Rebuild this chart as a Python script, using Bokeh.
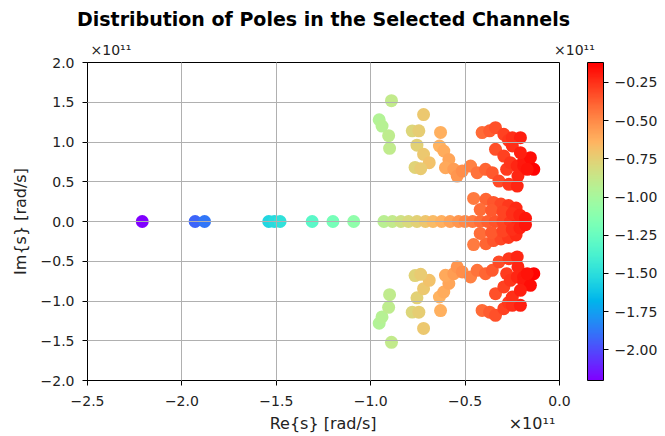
import math
from bokeh.plotting import figure
from bokeh.models import (ColumnDataSource, ColorBar, LinearColorMapper, FixedTicker,
                          CustomJSTickFormatter, Range1d, Title)
from bokeh.embed import file_html
from bokeh.resources import INLINE

# ---- data (units of 1e11 rad/s) ----
real_poles = [-2.21, -1.93, -1.88, -1.54, -1.51, -1.48, -1.31, -1.20, -1.09,
              -0.93, -0.885, -0.84, -0.80, -0.755, -0.71, -0.67, -0.625, -0.58,
              -0.535, -0.50, -0.46, -0.42, -0.38, -0.34, -0.30, -0.26, -0.22, -0.19]

cplx_re = [-0.89, -0.955, -0.94, -0.905, -0.90,
           -0.72, -0.78, -0.745, -0.755, -0.72, -0.69, -0.765, -0.735,
           -0.63, -0.636, -0.613, -0.586, -0.604, -0.56, -0.542, -0.515,
           -0.471, -0.436, -0.392, -0.356, -0.321, -0.268, -0.224, -0.28, -0.22,
           -0.41, -0.37, -0.339, -0.295, -0.27, -0.25, -0.207, -0.25, -0.339, -0.295,
           -0.26, -0.224, -0.19, -0.189, -0.154, -0.136, -0.171, -0.207,
           -0.455, -0.39, -0.35, -0.31, -0.27, -0.23, -0.42, -0.36, -0.30, -0.25, -0.21, -0.18]
cplx_im = [1.52, 1.28, 1.20, 1.08, 0.92,
           1.345, 1.14, 1.14, 0.96, 0.845, 0.74, 0.68, 0.665,
           1.12, 0.95, 0.887, 0.78, 0.677, 0.656, 0.571, 0.634,
           0.697, 0.614, 0.656, 0.614, 0.508, 0.467, 0.445, 0.656, 0.571,
           1.118, 1.14, 1.18, 1.097, 1.02, 1.055, 1.055, 0.95, 0.908, 0.823,
           0.74, 0.697, 0.70, 0.76, 0.803, 0.656, 0.656, 0.866,
           0.29, 0.28, 0.24, 0.22, 0.20, 0.17, 0.15, 0.14, 0.12, 0.10, 0.08, 0.04]

x_ticks = [-2.5, -2.0, -1.5, -1.0, -0.5, 0.0]
y_ticks = [-2.0, -1.5, -1.0, -0.5, 0.0, 0.5, 1.0, 1.5, 2.0]
cbar_ticks = [-2.0, -1.75, -1.5, -1.25, -1.0, -0.75, -0.5, -0.25]
cbar_low, cbar_high = -2.2, -0.12

title_text = "Distribution of Poles in the Selected Channels"
x_label = "Re{s} [rad/s]"
y_label = "Im{s} [rad/s]"
offset_text = "\u00d710\u00b9\u00b9"

# ---- all poles (conjugate pairs mirrored) ----
xs = list(real_poles) + list(cplx_re) + list(cplx_re)
ys = [0.0] * len(real_poles) + list(cplx_im) + [-v for v in cplx_im]

# matplotlib "rainbow" colormap
def rainbow(t):
    r = min(1.0, abs(2 * t - 0.5))
    g = math.sin(math.pi * t)
    b = math.cos(math.pi * t / 2)
    return "#%02x%02x%02x" % (round(r * 255), round(g * 255), round(b * 255))

palette = [rainbow(i / 255) for i in range(256)]
mapper = LinearColorMapper(palette=palette, low=cbar_low, high=cbar_high)

src = ColumnDataSource(dict(x=xs, y=ys))

W, H = 665, 436
FL, FR, FT, FB = 87, 559, 62, 380
TXT = "#222222"
NB = "\u00a0"

p = figure(width=W, height=H, output_backend="svg", toolbar_location=None,
           x_range=Range1d(-2.5, 0.0), y_range=Range1d(-2.0, 2.0),
           min_border_left=FL, min_border_right=W - FR,
           min_border_top=FT, min_border_bottom=H - FB)
p.background_fill_color = "white"
p.border_fill_color = "white"
p.outline_line_color = "black"
p.outline_line_width = 1

p.scatter("x", "y", source=src, size=13,
          fill_color={"field": "x", "transform": mapper}, line_color=None)

fmt1 = CustomJSTickFormatter(code="return tick.toFixed(1).replace('-', '\u2212');")
fmt2 = CustomJSTickFormatter(code="return tick.toFixed(2).replace('-', '\u2212');")

for ax in (p.xaxis[0], p.yaxis[0]):
    ax.major_label_text_font = "DejaVu Sans"
    ax.major_label_text_font_size = "14px"
    ax.major_label_text_color = TXT
    ax.axis_label_text_font = "DejaVu Sans"
    ax.axis_label_text_font_size = "16px"
    ax.axis_label_text_font_style = "normal"
    ax.axis_label_text_color = TXT
    ax.minor_tick_line_color = None
    ax.major_tick_in = 0
    ax.major_tick_out = 5
    ax.major_tick_line_color = "black"
    ax.axis_line_color = "black"
    ax.formatter = fmt1

p.xaxis[0].ticker = FixedTicker(ticks=x_ticks)
p.yaxis[0].ticker = FixedTicker(ticks=y_ticks)
# x label shares its row with the x offset text ("x10^11" at the right end)
p.xaxis[0].axis_label = NB * 35 + x_label + NB * 26 + offset_text
p.yaxis[0].axis_label = y_label
p.xaxis[0].major_label_standoff = 10
p.yaxis[0].major_label_standoff = 8
p.xaxis[0].axis_label_standoff = 5
p.yaxis[0].axis_label_standoff = 8

for g in (p.xgrid[0], p.ygrid[0]):
    g.grid_line_color = "#b0b0b0"
    g.grid_line_width = 1
    g.level = "overlay"
p.xgrid[0].ticker = FixedTicker(ticks=x_ticks)
p.ygrid[0].ticker = FixedTicker(ticks=y_ticks)

# main title (outermost)
p.title.text = title_text
p.title.text_font = "DejaVu Sans"
p.title.text_font_size = "19px"
p.title.text_font_style = "bold"
p.title.text_color = "black"
p.title.align = "center"

# offset texts ("x10^11") above the axes and above the colour bar
p.add_layout(Title(text=offset_text + NB * 95 + offset_text, align="left", offset=3,
                   text_font="DejaVu Sans", text_font_size="14px",
                   text_font_style="normal", text_color=TXT), "above")

cb = ColorBar(color_mapper=mapper, width=16, ticker=FixedTicker(ticks=cbar_ticks),
              formatter=fmt2, margin=0, padding=0, location=(28, 0),
              major_label_text_font="DejaVu Sans", major_label_text_font_size="14px",
              major_label_text_color=TXT,
              major_tick_in=0, major_tick_out=5, major_tick_line_color="black",
              bar_line_color="black", minor_tick_line_color=None,
              label_standoff=6, background_fill_color="white")
p.add_layout(cb, "right")

open("out.html", "w").write(file_html(p, INLINE))
